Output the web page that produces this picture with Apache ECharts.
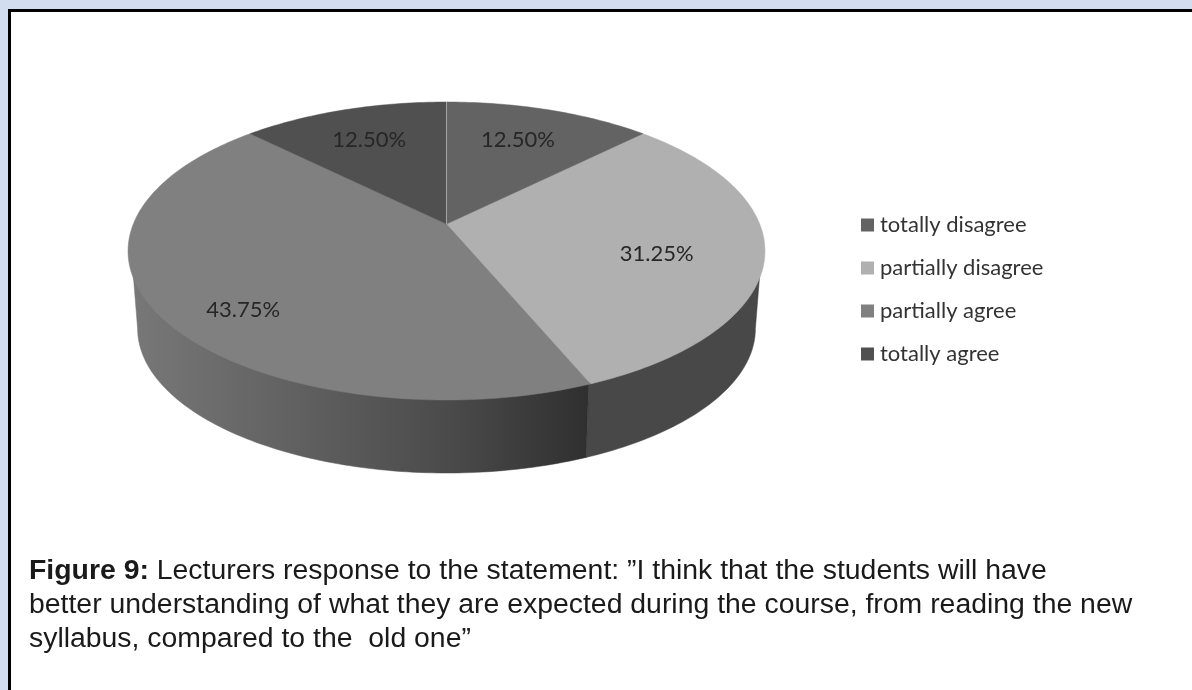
<!DOCTYPE html>
<html>
<head>
<meta charset="utf-8">
<title>Figure 9</title>
<script src="https://cdn.jsdelivr.net/npm/echarts@6/dist/echarts.min.js"></script>
<style>
  html, body { margin: 0; padding: 0; background: #d3ddf0; }
  /* the source is a soft scan */
  #chart { width: 1192px; height: 690px; filter: blur(0.5px); }
</style>
</head>
<body>
<div id="chart"></div>
<script>
// chart data
const categories = ['totally disagree', 'partially disagree', 'partially agree', 'totally agree'];
const shares = [12.5, 31.25, 43.75, 12.5];
const captionLines = [
  'Lecturers response to the statement: \u201dI think that the students will have',
  'better understanding of what they are expected during the course, from reading the new',
  'syllabus, compared to the  old one\u201d'
];

const topColors = ['#636363', '#b0b0b0', '#808080', '#505050'];
// label nudges in pixels, Excel did not put them on the mid angle
const labelNudge = [[-6, 2], [-18, 9], [0, 23], [0, 2]];

// the pie is a tilted disc, so the hub sits above the middle of the ellipse
const pie = { cx: 446.5, cy: 251, a: 313.2, b: 149, hub: 27, depth: 77.5, bottomScale: 0.97, labelR: 0.724 };
const tilt = pie.hub / pie.b;
const edgeAngle = Math.acos(-tilt) * 180 / Math.PI; // where the side wall starts to show

function project(deg, r, floor) {
  const t = deg * Math.PI / 180;
  const u = r * Math.sin(t);
  const v = r * Math.cos(t);
  const w = 1 + tilt * v;
  const s = floor ? pie.bottomScale : 1;
  const x = pie.a * u / w;
  const y = (pie.b * v + pie.hub) / w;
  return [pie.cx + x * s, pie.cy + (floor ? pie.depth : 0) - y * s];
}

function arc(from, to, r, floor) {
  const pts = [];
  const n = Math.max(2, Math.ceil(Math.abs(to - from)));
  for (let i = 0; i <= n; i++) {
    pts.push(project(from + (to - from) * i / n, r, floor));
  }
  return pts;
}

const wallFill = [
  null,
  '#484848',
  new echarts.graphic.LinearGradient(130, 0, 590, 0, [
    { offset: 0, color: '#787878' },
    { offset: 0.4, color: '#5e5e5e' },
    { offset: 0.7, color: '#4a4a4a' },
    { offset: 1, color: '#2f2f2f' }
  ], true),
  null
];

function renderSlice(params, api) {
  const idx = params.seriesIndex;
  const start = api.value(0) * 3.6;
  const end = start + api.value(1) * 3.6;
  const children = [];

  // side wall, only the front part of the disc, tucked a bit under the top face
  const wallFrom = Math.max(start, edgeAngle);
  const wallTo = Math.min(end, 360 - edgeAngle);
  if (wallFrom < wallTo) {
    const pts = arc(wallFrom, wallTo, 0.99, false).concat(arc(wallTo, wallFrom, 1, true));
    children.push({
      type: 'polygon',
      shape: { points: pts },
      style: { fill: wallFill[idx], stroke: wallFill[idx], lineWidth: 0.5 }
    });
  }

  // top face
  const face = [project(0, 0, false)].concat(arc(start, end, 1, false));
  children.push({
    type: 'polygon',
    z2: 2,
    shape: { points: face },
    style: { fill: topColors[idx], stroke: topColors[idx], lineWidth: 0.5 }
  });

  // thin light line between first and last slice
  if (idx === 0) {
    const hub = project(0, 0, false);
    const rim = project(0, 1, false);
    children.push({
      type: 'line',
      z2: 5,
      shape: { x1: hub[0], y1: hub[1], x2: rim[0], y2: rim[1] },
      style: { stroke: '#a6a6a6', lineWidth: 1 }
    });
  }

  const mid = project((start + end) / 2, pie.labelR, false);
  children.push({
    type: 'text',
    z2: 10,
    x: mid[0] + labelNudge[idx][0],
    y: mid[1] + labelNudge[idx][1],
    style: {
      text: api.value(1).toFixed(2) + '%',
      fill: '#262626',
      font: '22px Lato',
      align: 'center',
      verticalAlign: 'middle'
    }
  });

  return { type: 'group', children: children };
}

let running = 0;
const series = categories.map((name, i) => {
  const item = {
    name: name,
    type: 'custom',
    coordinateSystem: 'none',
    silent: true,
    animation: false,
    z: i === 0 ? 3 : 2,
    itemStyle: { color: topColors[i] },
    renderItem: renderSlice,
    data: [[running, shares[i]]]
  };
  running += shares[i];
  return item;
});

const chart = echarts.init(document.getElementById('chart'), null, { renderer: 'canvas' });

chart.setOption({
  animation: false,
  backgroundColor: '#d3ddf0',
  color: topColors,
  title: {
    left: 29,
    top: 554,
    padding: 0,
    text: '{b|Figure 9:} ' + captionLines.join('\n'),
    textStyle: {
      color: '#1a1a1a',
      fontFamily: 'Liberation Sans',
      fontSize: 28.4,
      fontWeight: 'normal',
      lineHeight: 34,
      rich: {
        b: { fontFamily: 'Liberation Sans', fontSize: 28.4, fontWeight: 'bold', color: '#1a1a1a', lineHeight: 34 }
      }
    }
  },
  legend: {
    orient: 'vertical',
    left: 861,
    top: 214,
    padding: 0,
    icon: 'rect',
    itemWidth: 13,
    itemHeight: 13,
    itemGap: 21,
    selectedMode: false,
    data: categories,
    textStyle: { color: '#333', fontFamily: 'Lato', fontSize: 22, padding: [0, 0, 0, 1] }
  },
  // paper with the black edge, runs off the right and bottom
  graphic: [{
    type: 'rect',
    z: -10,
    silent: true,
    shape: { x: 9.5, y: 10.5, width: 1300, height: 800 },
    style: { fill: '#fff', stroke: '#000', lineWidth: 3 }
  }],
  series: series
});
</script>
</body>
</html>
